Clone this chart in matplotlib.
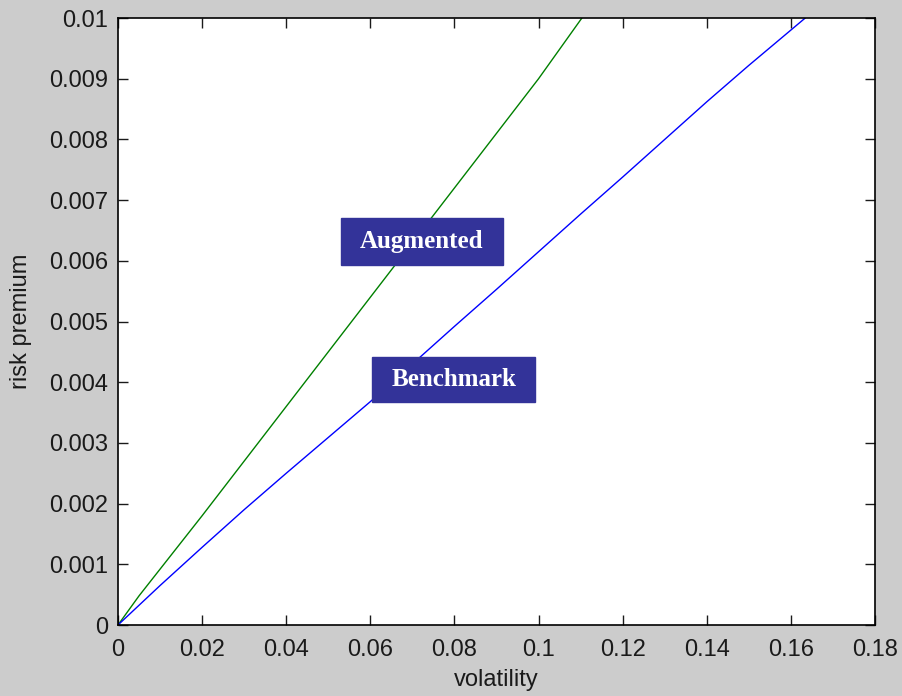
import matplotlib.pyplot as plt
from matplotlib.patches import Rectangle

# curves
bench_vol = [0, 0.01, 0.02, 0.03, 0.04, 0.05, 0.06, 0.07, 0.08, 0.09,
             0.10, 0.11, 0.12, 0.13, 0.14, 0.15, 0.1634]
bench_prem = [0, 0.00065, 0.00128, 0.0019, 0.0025, 0.00309, 0.00368, 0.0043,
              0.00492, 0.00553, 0.00615, 0.00677, 0.00738, 0.008, 0.00862, 0.00922, 0.01]
aug_vol = [0, 0.005, 0.02, 0.04, 0.06, 0.08, 0.10, 0.1103]
aug_prem = [0, 0.00048, 0.0018, 0.0036, 0.0054, 0.0072, 0.0090, 0.01]

xticks = [0, 0.02, 0.04, 0.06, 0.08, 0.1, 0.12, 0.14, 0.16, 0.18]
xticklabels = ["0", "0.02", "0.04", "0.06", "0.08", "0.1", "0.12", "0.14", "0.16", "0.18"]
yticks = [0, 0.001, 0.002, 0.003, 0.004, 0.005, 0.006, 0.007, 0.008, 0.009, 0.01]
yticklabels = ["0", "0.001", "0.002", "0.003", "0.004", "0.005", "0.006",
               "0.007", "0.008", "0.009", "0.01"]

plt.rcParams['font.family'] = ['Liberation Sans', 'DejaVu Sans']

fig = plt.figure(figsize=(9.02, 6.96), dpi=100, facecolor="#cccccc")
ax = fig.add_axes([0.1308, 0.102, 0.8392, 0.872])
ax.plot(aug_vol, aug_prem, color=(0, 0.5, 0), lw=1)
ax.plot(bench_vol, bench_prem, color=(0, 0, 1), lw=1)

ax.set_xlim(0, 0.18)
ax.set_ylim(0, 0.01)
ax.set_xticks(xticks)
ax.set_xticklabels(xticklabels)
ax.set_yticks(yticks)
ax.set_yticklabels(yticklabels)
ax.tick_params(direction="in", top=True, right=True, length=7, width=1,
               labelsize=17, colors="#1a1a1a")
ax.tick_params(axis="x", pad=10)
ax.tick_params(axis="y", pad=7)
for s in ax.spines.values():
    s.set_linewidth(1.2)
ax.set_xlabel("volatility", fontsize=17, color="#1a1a1a", labelpad=6)
ax.set_ylabel("risk premium", fontsize=17, color="#1a1a1a", labelpad=12)

# label boxes
boxes = [("Augmented", 0.0530, 0.00593, 0.0385, 0.00078),
         ("Benchmark", 0.0604, 0.00367, 0.0388, 0.00075)]
for txt, x0, y0, w, h in boxes:
    ax.add_patch(Rectangle((x0, y0), w, h, facecolor="#333399",
                           edgecolor="#333399", zorder=3))
    ax.text(x0 + w / 2, y0 + h / 2, txt, color="white", fontsize=18,
            fontweight="bold", family="Liberation Serif",
            ha="center", va="center", zorder=4)

fig.savefig("out.png", dpi=100, facecolor=fig.get_facecolor())
